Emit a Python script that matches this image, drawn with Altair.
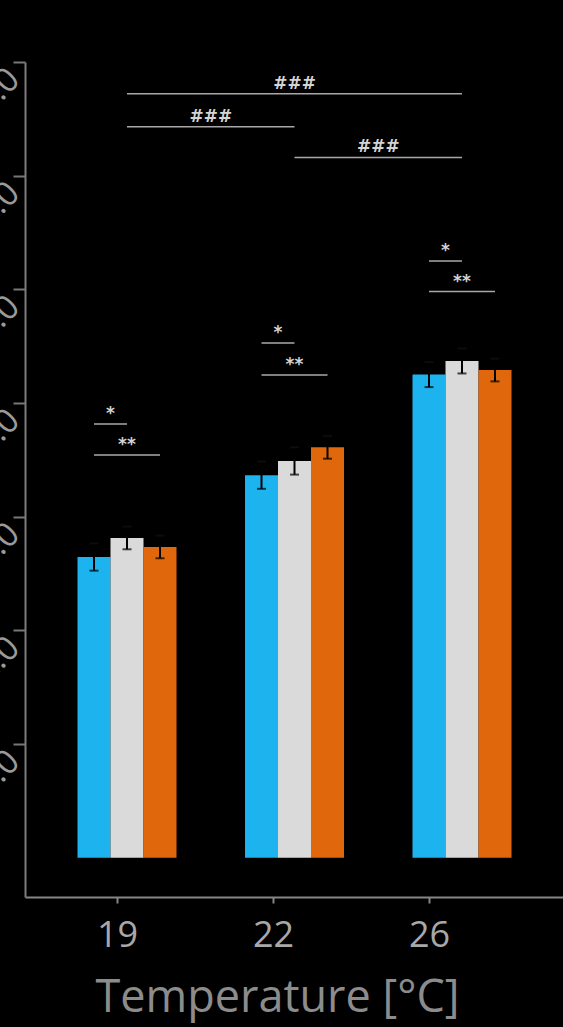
import altair as alt
import pandas as pd

# ---- data ----
temps = ["19", "22", "26"]
series = ["S1", "S2", "S3"]
colors = ["#1cb3ee", "#dadada", "#e0670b"]

mean_s1 = [2.645, 3.365, 4.25]
mean_s2 = [2.813, 3.49, 4.37]
mean_s3 = [2.734, 3.61, 4.29]
err_s1 = [0.12, 0.12, 0.11]
err_s2 = [0.10, 0.12, 0.11]
err_s3 = [0.10, 0.10, 0.10]

# within-group brackets: group index, from series, to series, level, label
wg_group = [0, 0, 1, 1, 2, 2]
wg_from = [0, 0, 0, 0, 0, 0]
wg_to = [1, 2, 1, 2, 1, 2]
wg_level = [3.816, 3.543, 4.528, 4.247, 5.25, 4.98]
wg_label = ["*", "**", "*", "**", "*", "**"]

# between-group brackets: from group, to group, level, label
bg_from = [0, 0, 1]
bg_to = [2, 1, 2]
bg_level = [6.72, 6.43, 6.16]
bg_label = ["###", "###", "###"]

y_ticks = [1, 2, 3, 4, 5, 6, 7]

# ---- style constants ----
BW = 0.197          # bar width in group units
CAP = 9             # error-bar cap width (px)
W, H = 538, 835

means = [mean_s1, mean_s2, mean_s3]
errs = [err_s1, err_s2, err_s3]
rows = []
for gi, t in enumerate(temps):
    for si, s in enumerate(series):
        xc = gi + (si - 1) * BW
        m = means[si][gi]
        e = errs[si][gi]
        rows.append(dict(temp=t, series=s, xc=xc, x0=xc - BW / 2, x1=xc + BW / 2,
                         mean=m, lo=m - e, hi=m + e))
bars_df = pd.DataFrame(rows)

ann = []
for g, a, b, lv, lb in zip(wg_group, wg_from, wg_to, wg_level, wg_label):
    xa = g + (a - 1) * BW
    xb = g + (b - 1) * BW
    ann.append(dict(xa=xa, xb=xb, xm=(xa + xb) / 2, level=lv, label=lb))
for a, b, lv, lb in zip(bg_from, bg_to, bg_level, bg_label):
    ann.append(dict(xa=a, xb=b, xm=(a + b) / 2, level=lv, label=lb))
ann_df = pd.DataFrame(ann)

xs = alt.Scale(domain=[-0.609, 2.603], nice=False, zero=False)
ys = alt.Scale(domain=[-0.346, 7], nice=False, zero=False)

base = alt.Chart(bars_df)

bars = base.mark_bar(stroke=None).encode(
    x=alt.X("x0:Q", scale=xs, axis=None),
    x2="x1:Q",
    y=alt.Y("mean:Q", scale=ys,
            axis=alt.Axis(values=y_ticks, title=None, grid=False,
                          domainColor="#7c7c7c", domainWidth=2,
                          tickColor="#777777", tickWidth=2, tickSize=12,
                          labelAngle=315, labelAlign="right", labelBaseline="top",
                          labelFontSize=34, labelColor="#9a9a9a", labelPadding=11,
                          labelFont="Open Sans", labelOverlap=False)),
    y2=alt.Y2(datum=0),
    color=alt.Color("series:N", scale=alt.Scale(domain=series, range=colors), legend=None),
)

err_rule = base.mark_rule(color="#000000", strokeWidth=2).encode(
    x=alt.X("xc:Q", scale=xs, axis=None),
    y=alt.Y("lo:Q", scale=ys),
    y2="hi:Q",
)
cap_lo = base.mark_tick(color="#000000", orient="horizontal", size=CAP, thickness=2).encode(
    x=alt.X("xc:Q", scale=xs, axis=None),
    y=alt.Y("lo:Q", scale=ys),
)
cap_hi = base.mark_tick(color="#111111", orient="horizontal", size=CAP, thickness=2).encode(
    x=alt.X("xc:Q", scale=xs, axis=None),
    y=alt.Y("hi:Q", scale=ys),
)

abase = alt.Chart(ann_df)
ann_rules = abase.mark_rule(color="#a8a8a8", strokeWidth=1.5).encode(
    x=alt.X("xa:Q", scale=xs, axis=None),
    x2="xb:Q",
    y=alt.Y("level:Q", scale=ys),
)
ann_text = abase.mark_text(color="#d4d4d4", fontSize=17, font="DejaVu Sans",
                           fontWeight="bold", baseline="alphabetic", dy=-5).encode(
    x=alt.X("xm:Q", scale=xs, axis=None),
    y=alt.Y("level:Q", scale=ys),
    text="label:N",
)

axis_layer = alt.Chart(pd.DataFrame({"temp": temps})).mark_point(opacity=0).encode(
    x=alt.X("temp:O", sort=temps,
            scale=alt.Scale(type="point", padding=0.7244, align=0.407),
            axis=alt.Axis(title="Temperature [°C]", labelAngle=0,
                          domainColor="#858585", domainWidth=2,
                          tickColor="#858585", tickWidth=2, tickSize=6,
                          labelFontSize=36, labelColor="#a8a8a8", labelFont="Open Sans",
                          labelPadding=15,
                          titleFontSize=45, titleColor="#8c8c8c", titleFont="Open Sans",
                          titleFontWeight="normal", titlePadding=22, titleX=252)),
)

chart = alt.layer(bars, err_rule, cap_lo, cap_hi, ann_rules, ann_text, axis_layer).resolve_scale(
    x="independent"
).properties(
    width=W, height=H,
    autosize=alt.AutoSizeParams(type="none"),
    padding={"left": 25, "top": 62, "right": 0, "bottom": 130},
    background="#000000",
).configure_view(stroke=None)

chart.save("out.html", embed_options={"renderer": "svg", "actions": False})
